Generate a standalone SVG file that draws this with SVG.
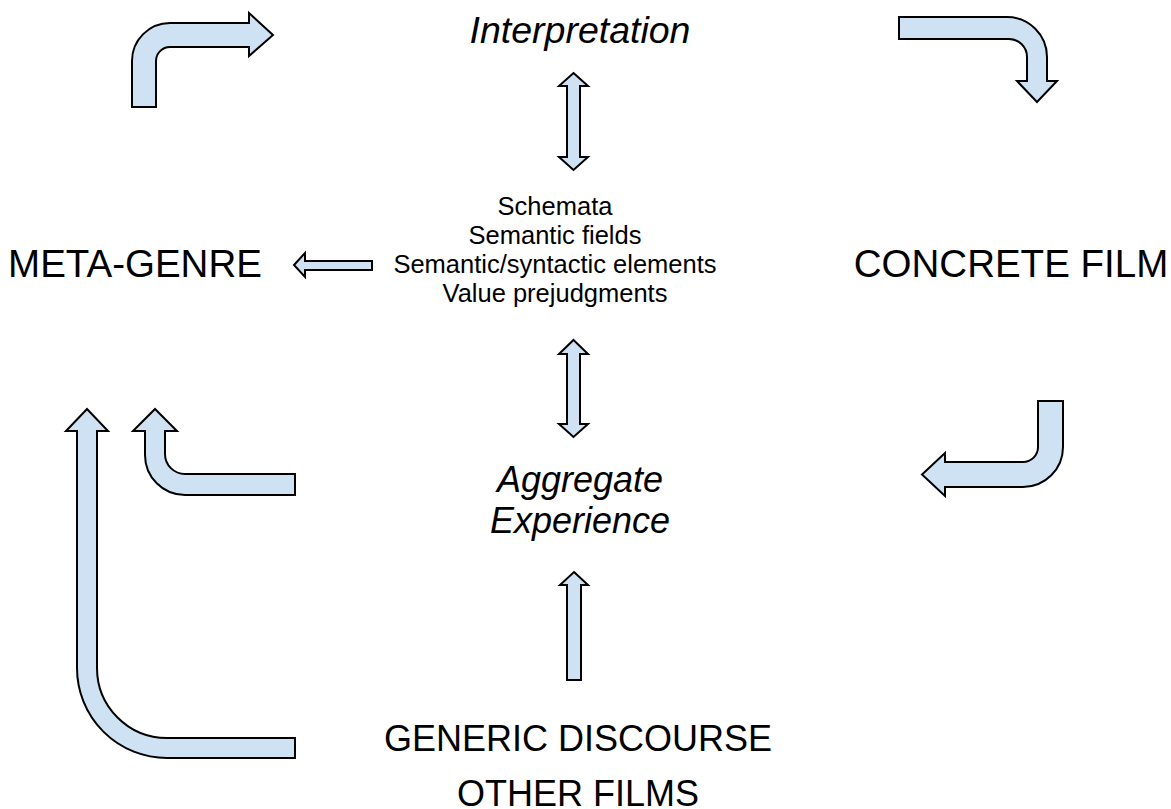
<svg xmlns="http://www.w3.org/2000/svg" width="1171" height="809" viewBox="0 0 1171 809">
<style>
.arr{fill:#cfe2f3;stroke:#000;stroke-width:2;stroke-linejoin:miter}
.big{font-family:"Liberation Sans",Arial,sans-serif;font-size:36px;fill:#000;text-anchor:middle}
.side{font-size:38.5px}
.it{font-style:italic}
.small{font-family:"Liberation Sans",Arial,sans-serif;font-size:25.5px;fill:#000;text-anchor:middle}
</style>
<rect width="1171" height="809" fill="#fff"/>
<g id="connectors">
<path class="arr" d="M132,107 L132,61 A38,38 0 0 1 170,23 L249,23 L249,13 L273,35 L249,56 L249,47 L170,47 A14,14 0 0 0 156,61 L156,107 Z"/>
<path class="arr" d="M899,17 L1007,17 A40,40 0 0 1 1047,57 L1047,81 L1057,81 L1037,102 L1017,81 L1027,81 L1027,57 A18,18 0 0 0 1009,39 L899,39 Z"/>
<path class="arr" d="M573.5,73 L588,86 L580,86 L580,157 L588,157 L573.5,170 L559,157 L567,157 L567,86 L559,86 Z"/>
<path class="arr" d="M294,265 L305,253 L305,261 L372,261 L372,270 L305,270 L305,277 Z"/>
<path class="arr" d="M573.5,340 L588,354 L580,354 L580,424 L588,424 L573.5,437 L559,424 L567,424 L567,354 L559,354 Z"/>
<path class="arr" d="M1038,401 L1063,401 L1063,447 A40,40 0 0 1 1023,487 L945,487 L945,496 L922,474.5 L945,453 L945,462 L1023,462 A15,15 0 0 0 1038,447 Z"/>
<path class="arr" d="M295,474 L185,474 A20,20 0 0 1 165,454 L165,431 L177,431 L155,409 L133,431 L145,431 L145,455 A40,40 0 0 0 185,495 L295,495 Z"/>
<path class="arr" d="M295,738 L167,738 A70,70 0 0 1 97,668 L97,431 L108,431 L87,409 L66,431 L77,431 L77,668 A90,90 0 0 0 167,758 L295,758 Z"/>
<path class="arr" d="M574,572 L588,585 L581,585 L581,680 L567,680 L567,585 L560,585 Z"/>
</g>
<g id="interpretation"><text class="big it" x="580" y="43" style="font-size:37.5px">Interpretation</text></g>
<g id="meta-genre"><text class="big side" x="135" y="277">META-GENRE</text></g>
<g id="concrete-film"><text class="big side" x="1011" y="277">CONCRETE FILM</text></g>
<g id="schemata">
<text class="small" x="555" y="215">Schemata</text>
<text class="small" x="555" y="244">Semantic fields</text>
<text class="small" x="555" y="273">Semantic/syntactic elements</text>
<text class="small" x="555" y="302">Value prejudgments</text>
</g>
<g id="aggregate">
<text class="big it" x="580" y="492">Aggregate</text>
<text class="big it" x="580" y="533">Experience</text>
</g>
<g id="generic">
<text class="big" x="578" y="751">GENERIC DISCOURSE</text>
<text class="big" x="578" y="806">OTHER FILMS</text>
</g>
</svg>
